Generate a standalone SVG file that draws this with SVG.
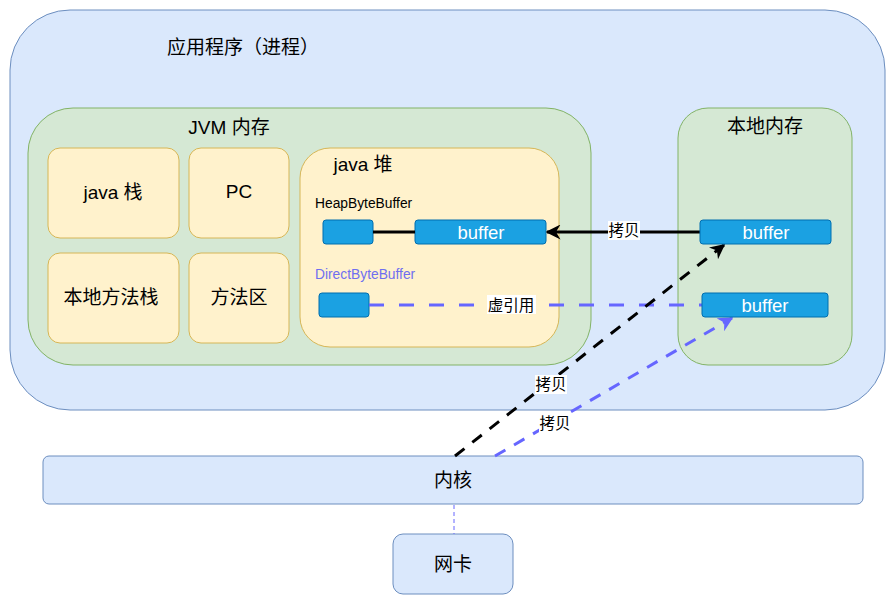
<svg xmlns="http://www.w3.org/2000/svg" width="896" height="602" viewBox="0 0 896 602">
<style>
text{font-family:"Liberation Sans","Noto Sans CJK SC",sans-serif;fill:#000;text-anchor:middle;dominant-baseline:central}
.app{fill:#dae8fc;stroke:#6c8ebf;stroke-width:1}
.grn{fill:#d5e8d4;stroke:#82b366;stroke-width:1}
.yel{fill:#fff2cc;stroke:#d6b656;stroke-width:1}
.blu{fill:#1ba1e2;stroke:#006eaf;stroke-width:1}
.t18{font-size:19px}
.t12{font-size:13.8px;text-anchor:start}
.wt{fill:#fff;font-size:18.5px}
.lbl{font-size:15.5px}
</style>
<defs>
<marker id="ab" viewBox="0 0 10 10" refX="9" refY="5" markerWidth="5" markerHeight="5" orient="auto" markerUnits="strokeWidth">
<path d="M0,0 L10,5 L0,10 L3,5 Z" fill="#000"/>
</marker>
<marker id="ap" viewBox="0 0 10 10" refX="9" refY="5" markerWidth="5" markerHeight="5" orient="auto" markerUnits="strokeWidth">
<path d="M0,0 L10,5 L0,10 L3,5 Z" fill="#6666ff"/>
</marker>
</defs>
<g id="app"><rect class="app" x="10" y="10" width="875" height="400" rx="60"/><text class="t18" x="243" y="47">应用程序（进程）</text></g>
<g id="jvm"><rect class="grn" x="28" y="108" width="563" height="257" rx="45"/><text class="t18" x="229" y="127">JVM 内存</text></g>
<g id="stack"><rect class="yel" x="48" y="148" width="131" height="90" rx="12"/><text class="t18" x="113" y="192">java 栈</text></g>
<g id="pc"><rect class="yel" x="189" y="148" width="100" height="90" rx="12"/><text class="t18" x="239" y="191">PC</text></g>
<g id="nstack"><rect class="yel" x="48" y="253" width="131" height="90" rx="12"/><text class="t18" x="111" y="297">本地方法栈</text></g>
<g id="method"><rect class="yel" x="189" y="253" width="100" height="90" rx="12"/><text class="t18" x="239" y="297">方法区</text></g>
<g id="heap"><rect class="yel" x="300" y="148" width="259" height="199" rx="30"/><text class="t18" x="363" y="164">java 堆</text>
<text class="t12" x="315" y="203">HeapByteBuffer</text>
<text class="t12" x="315" y="274" style="fill:#6f6ff0">DirectByteBuffer</text></g>
<g id="native"><rect class="grn" x="678" y="108" width="174" height="257" rx="30"/><text class="t18" x="765" y="126">本地内存</text></g>
<g id="hb"><rect class="blu" x="323" y="220" width="50" height="24" rx="3"/></g>
<g id="hbuf"><rect class="blu" x="415" y="220" width="131" height="24" rx="3"/><text class="wt" x="481" y="232">buffer</text></g>
<g id="db"><rect class="blu" x="319" y="293" width="50" height="24" rx="3"/></g>
<g id="kernel"><rect class="app" x="43" y="456" width="820" height="48" rx="6"/><text class="t18" x="453" y="480">内核</text></g>
<g id="nic"><rect class="app" x="393" y="534" width="120" height="60" rx="10"/><text class="t18" x="453" y="564">网卡</text></g>
<g id="connectors">
<line x1="373" y1="232" x2="415" y2="232" stroke="#000" stroke-width="3"/>
<line x1="700" y1="232" x2="547" y2="232" stroke="#000" stroke-width="3" marker-end="url(#ab)"/>
<rect x="608" y="221" width="32" height="19" fill="#fff"/>
<text class="lbl" x="624" y="230">拷贝</text>
<line x1="369" y1="305" x2="702" y2="305" stroke="#6666ff" stroke-width="3" stroke-dasharray="15,15"/>
<rect x="487" y="295" width="49" height="19" fill="#fff"/>
<text class="lbl" x="511" y="305">虚引用</text>
<line x1="455" y1="456" x2="724" y2="245" stroke="#000" stroke-width="3" stroke-dasharray="12,10" marker-end="url(#ab)"/>
<rect x="535" y="375" width="32" height="19" fill="#fff"/>
<text class="lbl" x="551" y="384">拷贝</text>
<line x1="495" y1="456" x2="732" y2="318" stroke="#6666ff" stroke-width="3" stroke-dasharray="12,10" marker-end="url(#ap)"/>
<rect x="539" y="413" width="32" height="19" fill="#fff"/>
<text class="lbl" x="555" y="423">拷贝</text>
<line x1="454" y1="505" x2="454" y2="534" stroke="#6666ff" stroke-width="1" stroke-dasharray="4,3"/>
</g>
<g id="nbuf1"><rect class="blu" x="700" y="220" width="131" height="24" rx="3"/><text class="wt" x="766" y="232">buffer</text></g>
<g id="nbuf2"><rect class="blu" x="702" y="293" width="126" height="24" rx="3"/><text class="wt" x="765" y="305">buffer</text></g>
</svg>
